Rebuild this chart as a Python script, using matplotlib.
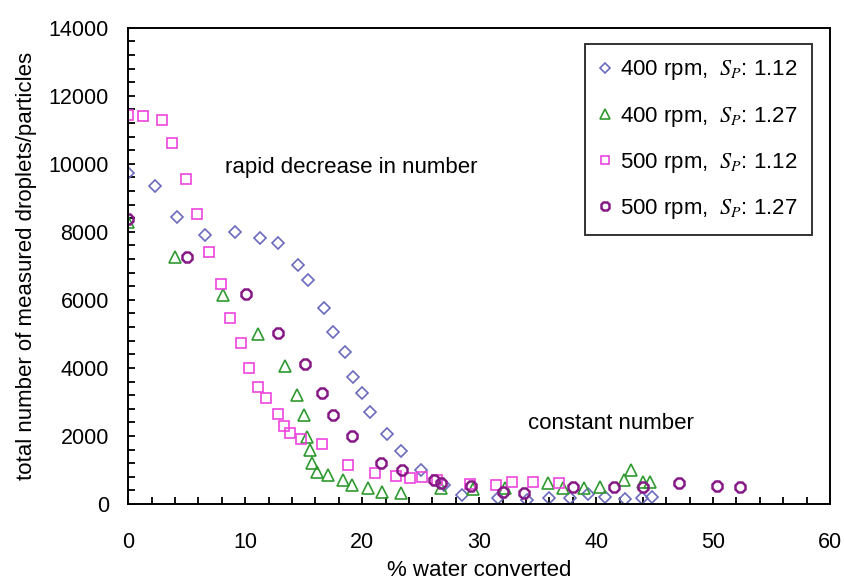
import numpy as np
import matplotlib
matplotlib.use('Agg')
import matplotlib.pyplot as plt
from matplotlib.ticker import MultipleLocator

plt.rcParams['font.family'] = ['Liberation Sans', 'DejaVu Sans']
plt.rcParams['mathtext.fontset'] = 'stix'

# 400 rpm, Sp 1.12 (diamonds)
x_400_112 = [0, 2.3, 4.2, 6.6, 9.1, 11.3, 12.8, 14.5, 15.4, 16.7, 17.5, 18.5, 19.2, 20.0,
             20.7, 22.1, 23.3, 25.0, 27.0, 28.5, 31.6, 34.1, 36.0, 37.8, 39.3, 40.8, 42.5,
             43.9, 44.8]
y_400_112 = [9720, 9360, 8430, 7910, 7990, 7810, 7660, 7030, 6590, 5770, 5050, 4460, 3730,
             3270, 2710, 2060, 1560, 1000, 560, 270, 170, 120, 170, 170, 290, 200, 140, 170, 200]

# 400 rpm, Sp 1.27 (triangles)
x_400_127 = [0, 4.0, 8.1, 11.1, 13.4, 14.4, 15.0, 15.25, 15.5, 15.7, 16.1, 17.1, 18.4, 19.1,
             20.5, 21.7, 23.3, 26.7, 29.5, 32.2, 35.9, 37.2, 39.0, 40.3, 42.4, 43.0, 44.0, 44.6]
y_400_127 = [8300, 7260, 6150, 5000, 4070, 3200, 2620, 1980, 1590, 1210, 950, 850, 710, 560,
             460, 360, 310, 480, 430, 460, 620, 460, 460, 500, 720, 1010, 660, 660]

# 500 rpm, Sp 1.12 (squares)
x_500_112 = [0, 1.3, 2.9, 3.7, 4.9, 5.9, 6.9, 7.9, 8.7, 9.6, 10.3, 11.1, 11.8, 12.8, 13.3,
             13.8, 14.8, 16.6, 18.8, 21.1, 22.9, 24.1, 25.1, 26.4, 29.2, 31.4, 32.8, 34.6, 36.8]
y_500_112 = [11430, 11400, 11290, 10600, 9560, 8520, 7420, 6470, 5480, 4720, 4010, 3450, 3110,
             2640, 2300, 2080, 1910, 1750, 1150, 910, 810, 770, 800, 710, 580, 560, 650, 650, 610]

# 500 rpm, Sp 1.27 (circles)
x_500_127 = [0, 5.0, 10.1, 12.8, 15.1, 16.6, 17.5, 19.1, 21.6, 23.4, 26.1, 26.7, 29.3, 32.0,
             33.8, 38.0, 41.5, 44.0, 47.1, 50.3, 52.3]
y_500_127 = [8380, 7270, 6170, 5040, 4110, 3250, 2620, 2000, 1220, 990, 710, 620, 520, 350,
             330, 510, 510, 510, 620, 540, 510]

fig = plt.figure(figsize=(8.45, 5.81), dpi=100)
ax = fig.add_axes([0.1518, 0.1325, 0.8305, 0.8198])

mk = dict(linestyle='none', markerfacecolor='none', markeredgewidth=1.2)
ax.plot(x_400_112, y_400_112, marker='D', markersize=6.5, markeredgecolor='#6b6bbd',
        label=r'400 rpm, $\ S_P$: 1.12', **mk)
ax.plot(x_400_127, y_400_127, marker='^', markersize=8.5, markeredgecolor='#2f9a2f',
        label=r'400 rpm, $\ S_P$: 1.27', **mk)
ax.plot(x_500_112, y_500_112, marker='s', markersize=7.5, markeredgecolor='#ee44dd',
        label=r'500 rpm, $\ S_P$: 1.12', **mk)
ax.plot(x_500_127, y_500_127, marker='8', markersize=8.5, markeredgecolor='#861a86',
        markeredgewidth=1.8, linestyle='none', markerfacecolor='none',
        label=r'500 rpm, $\ S_P$: 1.27')

ax.set_xlim(0, 60)
ax.set_ylim(0, 14000)
ax.xaxis.set_major_locator(MultipleLocator(10))
ax.xaxis.set_minor_locator(MultipleLocator(2))
ax.yaxis.set_major_locator(MultipleLocator(2000))
ax.yaxis.set_minor_locator(MultipleLocator(400))
ax.tick_params(axis='both', which='both', direction='in', length=5, width=1.3,
               top=False, right=False)
ax.tick_params(axis='x', which='major', pad=20, labelsize=15.5)
ax.tick_params(axis='y', which='major', pad=14, labelsize=15.5)
for s in ax.spines.values():
    s.set_linewidth(1.4)

ax.set_xlabel('% water converted', fontsize=16, labelpad=5)
ax.set_ylabel('total number of measured droplets/particles', fontsize=16, labelpad=8)

ax.text(19.1, 9900, 'rapid decrease in number', fontsize=16, ha='center', va='center')
ax.text(41.3, 2380, 'constant number', fontsize=16, ha='center', va='center')

leg = ax.legend(loc='upper right', bbox_to_anchor=(0.974, 0.966), fontsize=16,
                frameon=True, fancybox=False, edgecolor='black', handlelength=0.5,
                handletextpad=0.4, labelspacing=1.0, borderpad=0.65, borderaxespad=0,
                markerscale=0.8)
leg.get_frame().set_linewidth(1.4)

plt.savefig('out.png', dpi=100)
